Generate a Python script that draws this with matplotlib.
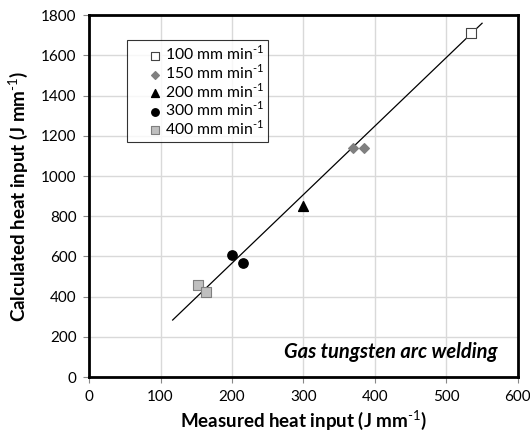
import matplotlib
matplotlib.use("Agg")
import matplotlib.pyplot as plt
import numpy as np

plt.rcParams['font.family'] = ['Lato', 'DejaVu Sans']
plt.rcParams['mathtext.fontset'] = 'custom'
plt.rcParams['mathtext.rm'] = 'Lato'
plt.rcParams['mathtext.bf'] = 'Lato:bold'

# Data
x100 = [535]; y100 = [1710]
x150 = [369, 385]; y150 = [1140, 1140]
x200 = [300]; y200 = [853]
x300 = [200, 216]; y300 = [609, 569]
x400 = [153, 164]; y400 = [458, 425]
line_x = [117, 550]
line_y = [284, 1760]

xticks = [0, 100, 200, 300, 400, 500, 600]
yticks = [0, 200, 400, 600, 800, 1000, 1200, 1400, 1600, 1800]

fig = plt.figure(figsize=(5.3, 4.34), dpi=100)
ax = fig.add_axes([0.168, 0.131, 0.809, 0.834])

unit = ' mm min$^{\\text{-1}}$'
ax.plot(line_x, line_y, color='black', lw=0.9, zorder=2)
ax.scatter(x100, y100, marker='s', s=42, facecolor='white', edgecolor='#444444', lw=0.8, zorder=3, label='100' + unit)
ax.scatter(x150, y150, marker='D', s=24, facecolor='#808080', edgecolor='#808080', zorder=3, label='150' + unit)
ax.scatter(x200, y200, marker='^', s=50, facecolor='black', edgecolor='black', zorder=3, label='200' + unit)
ax.scatter(x300, y300, marker='o', s=45, facecolor='black', edgecolor='black', zorder=3, label='300' + unit)
ax.scatter(x400, y400, marker='s', s=55, facecolor='#bfbfbf', edgecolor='#7f7f7f', lw=0.8, zorder=3, label='400' + unit)

ax.set_xlim(0, 600)
ax.set_ylim(0, 1800)
ax.set_xticks(xticks)
ax.set_yticks(yticks)
ax.grid(True, color='#d9d9d9', lw=1.0)
ax.set_axisbelow(True)
for s in ax.spines.values():
    s.set_linewidth(2.0)
    s.set_color('black')
ax.tick_params(axis='both', direction='out', length=4, width=0.8, color='#888888', labelsize=11, pad=5)

ax.set_xlabel('Measured heat input (J mm$^{\\text{-1}}$)', fontsize=13.5, fontweight='bold', labelpad=3)
ax.set_ylabel('Calculated heat input (J mm$^{\\text{-1}}$)', fontsize=13.5, fontweight='bold', labelpad=8)

leg = ax.legend(loc='upper left', bbox_to_anchor=(0.089, 0.932), borderaxespad=0,
                fontsize=11.3, frameon=True, fancybox=False, handletextpad=-0.9,
                handlelength=3.0, labelspacing=0.0, borderpad=0.3, markerscale=0.8)
leg.get_frame().set_edgecolor('black')
leg.get_frame().set_linewidth(0.8)

ax.text(0.952, 0.07, 'Gas tungsten arc welding', transform=ax.transAxes, ha='right', va='center',
        fontsize=14.5, fontweight='bold', fontstyle='italic')

fig.savefig('out.png', dpi=100)
